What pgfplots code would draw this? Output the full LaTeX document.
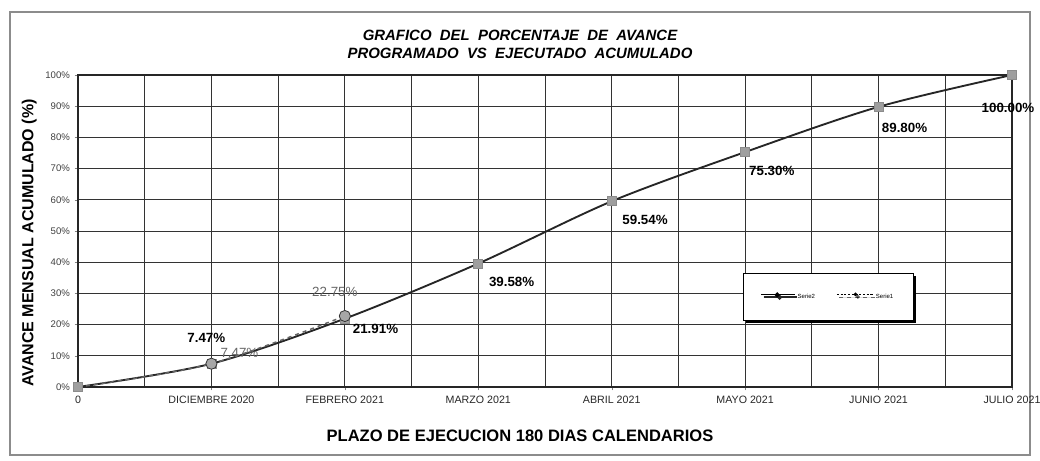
\documentclass[border=0pt]{standalone}
\usepackage{pgfplots}
\pgfplotsset{compat=1.18}
\usepackage{fontspec}
\setmainfont{Liberation Sans}
\usetikzlibrary{shadows}
\begin{document}
\begin{tikzpicture}[x=1pt,y=1pt]
\useasboundingbox (-58.5,-55.5) rectangle (721.5,290.25);
\draw[black!45, line width=0.8pt] (-51,-51) rectangle (714,281.25);
\begin{axis}[
  at={(0,0)}, anchor=south west,
  scale only axis, width=700.5pt, height=234pt,
  xmin=0, xmax=7, ymin=0, ymax=100,
  xtick={0,...,7},
  xticklabels={0,DICIEMBRE 2020,FEBRERO 2021,MARZO 2021,ABRIL 2021,MAYO 2021,JUNIO 2021,JULIO 2021},
  minor xtick={0.5,1.5,...,6.5},
  ytick={0,10,...,100},
  yticklabels={0\%,10\%,20\%,30\%,40\%,50\%,60\%,70\%,80\%,90\%,100\%},
  /pgf/number format/assume math mode=true,
  xticklabel style={font=\fontsize{8}{9}\selectfont, text=black!85, yshift=-1pt},
  yticklabel style={font=\fontsize{7.2}{8}\selectfont, text=black!75},
  tick pos=left, tick align=outside, major tick length=2.5pt, minor tick length=0pt,
  grid=both,
  major grid style={black!80, line width=0.6pt},
  minor grid style={black!80, line width=0.6pt},
  axis line style={black!85, line width=0.8pt},
  clip=false,
  legend columns=2,
  legend style={at={(0.712,0.213)}, anchor=south west, draw=black, fill=white, line width=0.6pt,
    font=\fontsize{4.5}{5}\selectfont, inner xsep=13pt, inner ysep=13pt,
    drop shadow={shadow xshift=1.8pt, shadow yshift=-1.8pt, fill=black, opacity=1},
    /tikz/every odd column/.append style={column sep=0pt},
    /tikz/every even column/.append style={column sep=14pt}},
]
\addplot[smooth, line width=1.4pt, color=black!85,
  mark=square*, mark size=3.4pt, mark options={solid, fill=gray!75, draw=gray!90, line width=0.5pt},
  legend image code/.code={\draw[black, line width=0.7pt] (0pt,1.6pt) -- (25pt,1.6pt); \fill[black] (12pt,1.6pt) circle (1.1pt);}]
  coordinates {(0,0) (1,7.47) (2,21.91) (3,39.58) (4,59.54) (5,75.30) (6,89.80) (7,100)};
\addlegendentry{Serie2}
\addplot[smooth, line width=1.1pt, color=black!60, dashed,
  mark=*, mark indices={2,3}, mark size=4.2pt, mark options={solid, fill=gray!70, draw=black!80, line width=0.6pt},
  legend image code/.code={\draw[black, line width=0.7pt, dash pattern=on 1.6pt off 1.2pt] (0pt,1.6pt) -- (27pt,1.6pt); \fill[black] (14pt,1.6pt) circle (1.1pt);}]
  coordinates {(0,0) (1,7.47) (2,22.75)};
\addlegendentry{Serie1}
\node[font=\bfseries\fontsize{10}{11}\selectfont] at (axis cs:1,7.47) [xshift=-3.8pt, yshift=19pt] {7.47\%};
\node[font=\fontsize{10}{11}\selectfont, text=black!60] at (axis cs:1,7.47) [xshift=21pt, yshift=8pt] {7.47\%};
\node[font=\fontsize{10}{11}\selectfont, text=black!60] at (axis cs:2,22.75) [xshift=-7.5pt, yshift=18pt] {22.75\%};
\node[font=\bfseries\fontsize{10}{11}\selectfont] at (axis cs:2,21.91) [xshift=23pt, yshift=-7.5pt] {21.91\%};
\node[font=\bfseries\fontsize{10}{11}\selectfont] at (axis cs:3,39.58) [xshift=25pt, yshift=-13.5pt] {39.58\%};
\node[font=\bfseries\fontsize{10}{11}\selectfont] at (axis cs:4,59.54) [xshift=25pt, yshift=-14pt] {59.54\%};
\node[font=\bfseries\fontsize{10}{11}\selectfont] at (axis cs:5,75.30) [xshift=20pt, yshift=-14pt] {75.30\%};
\node[font=\bfseries\fontsize{10}{11}\selectfont] at (axis cs:6,89.80) [xshift=19.5pt, yshift=-15.5pt] {89.80\%};
\node[font=\bfseries\fontsize{10}{11}\selectfont] at (axis cs:7,100) [xshift=-3pt, yshift=-24.5pt] {100.00\%};
\end{axis}
\node[font=\bfseries\itshape\fontsize{11.2}{13.5}\selectfont, align=center] at (331.5,257) {GRAFICO\ \ DEL\ \ PORCENTAJE\ \ DE\ \ AVANCE\\PROGRAMADO\ \ VS\ \ EJECUTADO\ \ ACUMULADO};
\node[font=\bfseries\fontsize{12.4}{13}\selectfont] at (331.5,-36.5) {PLAZO DE EJECUCION 180 DIAS CALENDARIOS};
\node[font=\bfseries\fontsize{12}{13}\selectfont, rotate=90] at (-36.5,108) {AVANCE MENSUAL ACUMULADO (\%)};
\end{tikzpicture}
\end{document}
